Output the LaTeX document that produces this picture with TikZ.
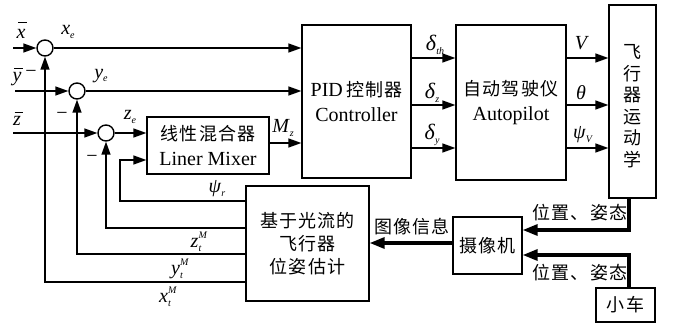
\documentclass[tikz,border=0pt]{standalone}
\usepackage{fontspec}
\setmainfont{Liberation Serif}[Ligatures=TeX]
\newfontfamily\latin{Liberation Serif}
\newfontfamily\cjk[LetterSpace=6]{Noto Sans CJK SC}
\usetikzlibrary{arrows.meta,calc}

% text helpers
\newcommand{\bigf}{\latin\fontsize{20}{25}\selectfont}
\newcommand{\zh}[1]{{\cjk\fontsize{18}{25}\selectfont #1}}
\newcommand{\smallf}{\fontsize{10}{10}\selectfont}
\newcommand{\vsub}[2]{\textit{#1}\raisebox{-0.35ex}{\smallf\textit{#2}}}
\newcommand{\vsubsup}[3]{\textit{#1}\rlap{\raisebox{-0.4ex}{\smallf\textit{#2}}}\raisebox{1.0ex}{\smallf\textit{#3}}}
% letter with a bar above it
\newcommand{\vbar}[2][0.62em]{\rlap{\hspace{0.08em}\raisebox{#1}{\rule{0.42em}{0.7pt}}}\textit{#2}}

\begin{document}
\begin{tikzpicture}[x=1pt,y=-1pt,
  arr/.style={line width=1.4pt,-{Triangle[length=13pt,width=9pt]}},
  thickarr/.style={line width=3.2pt,-{Triangle[length=15pt,width=11pt]}},
  blk/.style={draw,line width=1.3pt,inner sep=0pt,align=center,font=\bigf},
  sum/.style={draw,circle,line width=1.4pt,minimum size=16pt,inner sep=0pt},
  lbl/.style={inner sep=0pt,font=\bigf}]
\useasboundingbox (0,0) rectangle (676,323);

% summing junctions
\node[sum] (s1) at (45,48) {};
\node[sum] (s2) at (77,91) {};
\node[sum] (s3) at (106,133) {};

% blocks
\node[blk,minimum width=122pt,minimum height=57pt] (mix) at (208,145.5)
  {\zh{线性混合器}\\Liner Mixer};
\node[blk,minimum width=109pt,minimum height=153pt] (pid) at (356.5,101.5)
  {PID\,\zh{控制器}\\Controller};
\node[blk,minimum width=110pt,minimum height=155pt] (auto) at (511,102.5)
  {\zh{自动驾驶仪}\\Autopilot};
\node[draw,line width=1.3pt,minimum width=47pt,minimum height=193pt] (kin) at (632.5,101.5) {};
\node[inner sep=0pt,align=center,font={\cjk\fontsize{18}{21.5}\selectfont}] (kintxt) at (632.5,106)
  {飞\\行\\器\\运\\动\\学};
\node[blk,minimum width=123pt,minimum height=115pt] (est) at (307.5,243.5)
  {\zh{基于光流的}\\[-2pt]\zh{飞行器}\\[-2pt]\zh{位姿估计}};
\node[blk,minimum width=69pt,minimum height=57pt] (cam) at (487.5,245.5) {\zh{摄像机}};
\node[blk,minimum width=59pt,minimum height=34pt] (car) at (625.5,305) {\zh{小车}};

% reference inputs
\coordinate (xin) at (13,48);
\coordinate (yin) at (15,91);
\coordinate (zin) at (13,133);
\draw[arr] (xin) -- (s1);
\draw[arr] (yin) -- (s2);
\draw[arr] (zin) -- (s3);

% errors into the controller and mixer
\draw[arr] (s1.east) -- (s1.east -| pid.west);
\draw[arr] (s2.east) -- (s2.east -| pid.west);
\draw[arr] (s3.east) -- (s3.east -| mix.west);
\coordinate (mz) at (0,143);
\draw[arr] (mix.east |- mz) -- (pid.west |- mz);

% controller -> autopilot -> kinematics
\coordinate (r1) at (0,58);
\coordinate (r2) at (0,105);
\coordinate (r3) at (0,148);
\foreach \r in {r1,r2,r3}{
  \draw[arr] (pid.east |- \r) -- (auto.west |- \r);
  \draw[arr] (auto.east |- \r) -- (kin.west |- \r);
}

% feedback from the estimator
\coordinate (psiC) at (120,201);
\coordinate (psiT) at (120,160);
\draw[arr] (est.west |- psiC) -- (psiC) -- (psiT) -- (mix.west |- psiT);
\coordinate (zc) at (0,228);
\coordinate (yc) at (0,254);
\coordinate (xc) at (0,282);
\draw[arr] (est.west |- zc) -| (s3.south);
\draw[arr] (est.west |- yc) -| (s2.south);
\draw[arr] (est.west |- xc) -| (s1.south);

% measurement path
\coordinate (kx) at (629,230);
\coordinate (cx) at (629,255);
\coordinate (ic) at (0,243);
\draw[thickarr] (kin.south -| kx) -- (kx) -- (cam.east |- kx);
\draw[thickarr] (car.north -| cx) -- (cx) -- (cam.east |- cx);
\draw[thickarr] (cam.west |- ic) -- (est.east |- ic);

% signal labels
\node[lbl] (lxb) at (21,30) {\vbar[0.8em]{x}};
\node[lbl] (lyb) at (17,77) {\vbar[0.62em]{y}};
\node[lbl] (lym) at (31,74) {−};
\node[lbl] (lzb) at (17,119) {\vbar[0.62em]{z}};
\node[lbl] (lxe) at (68,32) {\vsub{x}{e}};
\node[lbl] (lye) at (101,76) {\vsub{y}{e}};
\node[lbl] (lze) at (130,117) {\vsub{z}{e}};
\node[lbl] (lm2) at (62,116) {−};
\node[lbl] (lm3) at (92,159) {−};
\node[lbl] (lmz) at (283,128) {\vsub{M}{z}};
\node[lbl,font=\latin\fontsize{22}{25}\selectfont] (ldth) at (435,45) {\vsub{δ}{th}};
\node[lbl,font=\latin\fontsize{22}{25}\selectfont] (ldz) at (432,93) {\vsub{δ}{z}};
\node[lbl,font=\latin\fontsize{22}{25}\selectfont] (ldy) at (432,135) {\vsub{δ}{y}};
\node[lbl] (lv) at (582,43) {\textit{V}};
\node[lbl] (lth) at (581,93) {\textit{θ}};
\node[lbl] (lpv) at (583,135) {\vsub{ψ}{V}};
\node[lbl] (lpr) at (217,189) {\vsub{ψ}{r}};
\node[lbl] (lzt) at (199,242) {\vsubsup{z}{t}{M}};
\node[lbl] (lyt) at (180,269) {\vsubsup{y}{t}{M}};
\node[lbl] (lxt) at (168,297) {\vsubsup{x}{t}{M}};
\node[lbl] (lpos1) at (580,213) {\zh{位置、姿态}};
\node[lbl] (lpos2) at (580,273) {\zh{位置、姿态}};
\node[lbl] (limg) at (412,227) {\zh{图像信息}};
\end{tikzpicture}
\end{document}
